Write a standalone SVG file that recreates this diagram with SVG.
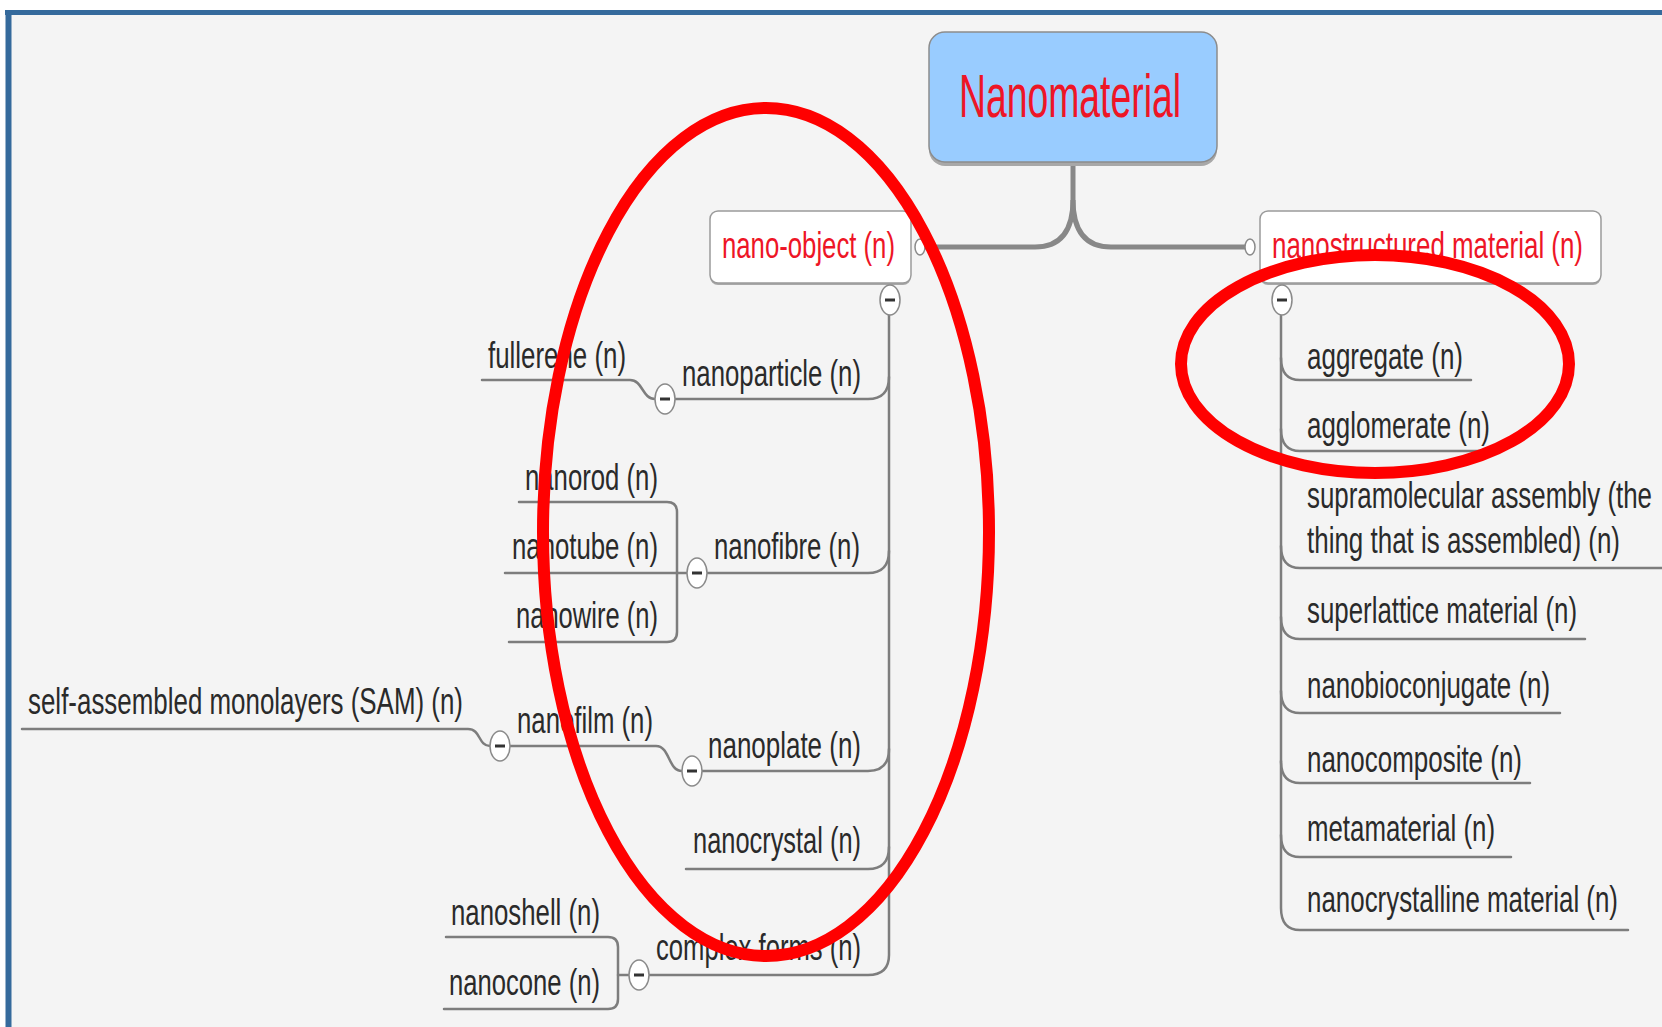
<svg xmlns="http://www.w3.org/2000/svg" width="1662" height="1027" viewBox="0 0 1662 1027">
  <style>
    .bg { fill: #f4f4f4; }
    .frame { stroke: #356a9c; fill: none; }
    .link { fill: none; stroke: #7d7d7d; stroke-width: 2.5; stroke-linecap: round; }
    .trunk { fill: none; stroke: #888888; stroke-width: 5; }
    .label { font-family: "Liberation Sans", Arial, sans-serif; font-size: 37px; fill: #2a2a2a; }
    .title { font-size: 61px; }
    .red { fill: #ee1526; }
    .box { fill: #ffffff; stroke: #9a9a9a; stroke-width: 1.5; }
    .shadow { fill: #a8a8a8; }
    .toggle { fill: #ffffff; stroke: #8a8a8a; stroke-width: 1.5; }
    .minus { stroke: #333333; stroke-width: 3; }
    .dot { fill: #ffffff; stroke: #8a8a8a; stroke-width: 1.5; }
    .mark { fill: none; stroke: #ff0000; stroke-width: 12; }
  </style>

  <!-- canvas and frame -->
  <rect x="0" y="0" width="1662" height="1027" fill="#ffffff"/>
  <rect class="bg" x="11" y="15" width="1651" height="1012"/>
  <line class="frame" x1="5" y1="12.5" x2="1662" y2="12.5" stroke-width="5"/>
  <line class="frame" x1="8.5" y1="10" x2="8.5" y2="1027" stroke-width="6"/>

  <!-- connectors -->
  <g id="connectors">
    <!-- root to first level -->
    <path class="trunk" d="M1073,163 V200 Q1073,247 1035,247 H920"/>
    <path class="trunk" d="M1073,200 Q1073,247 1111,247 H1250"/>
    <ellipse class="dot" cx="920" cy="247" rx="5" ry="8"/>
    <ellipse class="dot" cx="1250" cy="247" rx="5" ry="8"/>

    <!-- nano-object spine -->
    <path class="link" d="M889,315 V955 Q889,975 868,975 H649"/>
    <path class="link" d="M889,377 Q889,399 868,399 H675"/>
    <path class="link" d="M889,551 Q889,573 868,573 H707"/>
    <path class="link" d="M889,749 Q889,771 868,771 H702"/>
    <path class="link" d="M889,847 Q889,869 868,869 H686"/>

    <!-- nanoparticle children -->
    <path class="link" d="M482,380 H630 C643,380 642,399 655,399"/>

    <!-- nanofibre children -->
    <path class="link" d="M519,502 H667 Q677,502 677,512 V632 Q677,642 667,642 H509"/>
    <path class="link" d="M505,573 H687"/>

    <!-- nanoplate / nanofilm children -->
    <path class="link" d="M510,746 H656 C670,746 668,771 682,771"/>
    <path class="link" d="M22,729 H468 C481,729 478,746 490,746"/>

    <!-- complex forms children -->
    <path class="link" d="M446,937 H608 Q618,937 618,947 V999 Q618,1009 608,1009 H444"/>
    <path class="link" d="M618,975 H629"/>

    <!-- nanostructured material spine -->
    <path class="link" d="M1281,316 V908 Q1281,930 1300,930 H1628"/>
    <path class="link" d="M1281,358 Q1281,380 1300,380 H1471"/>
    <path class="link" d="M1281,429 Q1281,451 1300,451 H1493"/>
    <path class="link" d="M1281,546 Q1281,568 1300,568 H1662"/>
    <path class="link" d="M1281,617 Q1281,639 1300,639 H1585"/>
    <path class="link" d="M1281,691 Q1281,713 1300,713 H1560"/>
    <path class="link" d="M1281,761 Q1281,783 1300,783 H1530"/>
    <path class="link" d="M1281,835 Q1281,857 1300,857 H1511"/>
  </g>

  <!-- root -->
  <g id="node-nanomaterial">
    <rect class="shadow" x="929" y="35" width="288" height="131" rx="16"/>
    <rect x="929" y="32" width="288" height="130" rx="16" fill="#99ccff" stroke="#8c8c8c" stroke-width="1.5"/>
    <text class="label title red" x="959" y="117" textLength="222" lengthAdjust="spacingAndGlyphs">Nanomaterial</text>
  </g>

  <!-- first level -->
  <g id="node-nano-object">
    <rect class="shadow" x="710" y="213" width="201" height="72" rx="8"/>
    <rect class="box" x="710" y="211" width="201" height="72" rx="8"/>
    <text class="label red" x="722" y="258" textLength="173" lengthAdjust="spacingAndGlyphs">nano-object (n)</text>
    <ellipse class="toggle" cx="890" cy="300" rx="10" ry="15"/>
    <line class="minus" x1="885" y1="300" x2="895" y2="300"/>
  </g>

  <g id="node-nanostructured-material">
    <rect class="shadow" x="1260" y="213" width="341" height="72" rx="8"/>
    <rect class="box" x="1260" y="211" width="341" height="72" rx="8"/>
    <text class="label red" x="1272" y="258" textLength="311" lengthAdjust="spacingAndGlyphs">nanostructured material (n)</text>
    <ellipse class="toggle" cx="1282" cy="300" rx="10" ry="15"/>
    <line class="minus" x1="1277" y1="300" x2="1287" y2="300"/>
  </g>

  <!-- nano-object branch -->
  <g id="node-nanoparticle">
    <text class="label" x="682" y="386" textLength="179" lengthAdjust="spacingAndGlyphs">nanoparticle (n)</text>
    <ellipse class="toggle" cx="665" cy="399" rx="10" ry="15"/>
    <line class="minus" x1="660" y1="399" x2="670" y2="399"/>
  </g>
  <g id="node-fullerene">
    <text class="label" x="488" y="368" textLength="138" lengthAdjust="spacingAndGlyphs">fullerene (n)</text>
  </g>

  <g id="node-nanofibre">
    <text class="label" x="714" y="559" textLength="146" lengthAdjust="spacingAndGlyphs">nanofibre (n)</text>
    <ellipse class="toggle" cx="697" cy="573" rx="10" ry="15"/>
    <line class="minus" x1="692" y1="573" x2="702" y2="573"/>
  </g>
  <g id="node-nanorod">
    <text class="label" x="525" y="490" textLength="133" lengthAdjust="spacingAndGlyphs">nanorod (n)</text>
  </g>
  <g id="node-nanotube">
    <text class="label" x="512" y="559" textLength="146" lengthAdjust="spacingAndGlyphs">nanotube (n)</text>
  </g>
  <g id="node-nanowire">
    <text class="label" x="516" y="628" textLength="142" lengthAdjust="spacingAndGlyphs">nanowire (n)</text>
  </g>

  <g id="node-nanoplate">
    <text class="label" x="708" y="758" textLength="153" lengthAdjust="spacingAndGlyphs">nanoplate (n)</text>
    <ellipse class="toggle" cx="692" cy="771" rx="10" ry="15"/>
    <line class="minus" x1="687" y1="771" x2="697" y2="771"/>
  </g>
  <g id="node-nanofilm">
    <text class="label" x="517" y="733" textLength="136" lengthAdjust="spacingAndGlyphs">nanofilm (n)</text>
    <ellipse class="toggle" cx="500" cy="746" rx="10" ry="15"/>
    <line class="minus" x1="495" y1="746" x2="505" y2="746"/>
  </g>
  <g id="node-sam">
    <text class="label" x="28" y="714" textLength="435" lengthAdjust="spacingAndGlyphs">self-assembled monolayers (SAM) (n)</text>
  </g>

  <g id="node-nanocrystal">
    <text class="label" x="693" y="853" textLength="168" lengthAdjust="spacingAndGlyphs">nanocrystal (n)</text>
  </g>

  <g id="node-complex-forms">
    <text class="label" x="656" y="960" textLength="205" lengthAdjust="spacingAndGlyphs">complex forms (n)</text>
    <ellipse class="toggle" cx="639" cy="975" rx="10" ry="15"/>
    <line class="minus" x1="634" y1="975" x2="644" y2="975"/>
  </g>
  <g id="node-nanoshell">
    <text class="label" x="451" y="925" textLength="149" lengthAdjust="spacingAndGlyphs">nanoshell (n)</text>
  </g>
  <g id="node-nanocone">
    <text class="label" x="449" y="995" textLength="151" lengthAdjust="spacingAndGlyphs">nanocone (n)</text>
  </g>

  <!-- nanostructured material branch -->
  <g id="node-aggregate">
    <text class="label" x="1307" y="369" textLength="156" lengthAdjust="spacingAndGlyphs">aggregate (n)</text>
  </g>
  <g id="node-agglomerate">
    <text class="label" x="1307" y="438" textLength="183" lengthAdjust="spacingAndGlyphs">agglomerate (n)</text>
  </g>
  <g id="node-supramolecular-assembly">
    <text class="label" x="1307" y="508" textLength="345" lengthAdjust="spacingAndGlyphs">supramolecular assembly (the</text>
    <text class="label" x="1307" y="553" textLength="313" lengthAdjust="spacingAndGlyphs">thing that is assembled) (n)</text>
  </g>
  <g id="node-superlattice-material">
    <text class="label" x="1307" y="623" textLength="270" lengthAdjust="spacingAndGlyphs">superlattice material (n)</text>
  </g>
  <g id="node-nanobioconjugate">
    <text class="label" x="1307" y="698" textLength="243" lengthAdjust="spacingAndGlyphs">nanobioconjugate (n)</text>
  </g>
  <g id="node-nanocomposite">
    <text class="label" x="1307" y="772" textLength="215" lengthAdjust="spacingAndGlyphs">nanocomposite (n)</text>
  </g>
  <g id="node-metamaterial">
    <text class="label" x="1307" y="841" textLength="188" lengthAdjust="spacingAndGlyphs">metamaterial (n)</text>
  </g>
  <g id="node-nanocrystalline-material">
    <text class="label" x="1307" y="912" textLength="311" lengthAdjust="spacingAndGlyphs">nanocrystalline material (n)</text>
  </g>

  <!-- highlight rings -->
  <g id="highlights">
    <ellipse class="mark" cx="766" cy="532" rx="223" ry="424"/>
    <ellipse class="mark" cx="1375" cy="364" rx="194" ry="109"/>
  </g>
</svg>
